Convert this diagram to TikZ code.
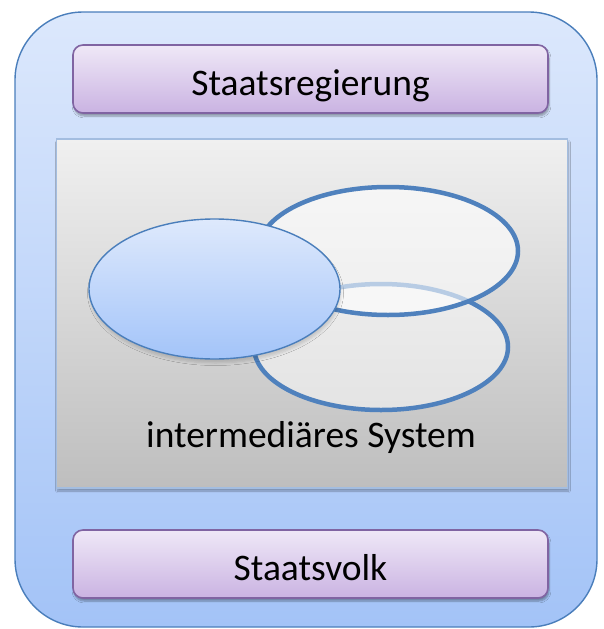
\documentclass[tikz,border=0pt]{standalone}
\usepackage{fontspec}
\setmainfont{Carlito}
\usetikzlibrary{shapes.geometric,shadows.blur}
\definecolor{frameblue}{HTML}{4A7EBB}
\definecolor{outertop}{HTML}{DCE8FC}
\definecolor{outerbot}{HTML}{A3C3F7}
\definecolor{violetline}{HTML}{8064A2}
\definecolor{violettop}{HTML}{EFE8F7}
\definecolor{violetbot}{HTML}{CAB3E2}
\definecolor{graytop}{HTML}{F0F0F0}
\definecolor{graybot}{HTML}{BEBEBE}
\definecolor{grayline}{HTML}{A3BDE0}
\definecolor{ringblue}{HTML}{4F81BD}
\definecolor{bluetop}{HTML}{DEE9FC}
\definecolor{bluebot}{HTML}{A3C4F9}
\tikzset{
  labelbox/.style={draw=violetline, line width=1.6pt, rounded corners=10pt,
    top color=violettop, bottom color=violetbot,
    minimum width=475pt, minimum height=68pt, inner sep=0pt,
    text height=32pt, text depth=0pt,
    font=\fontsize{37.5}{40}\selectfont,
    blur shadow={shadow xshift=1pt, shadow yshift=-3pt, shadow blur steps=6, shadow opacity=35}},
  ring/.style={ellipse, draw=ringblue, line width=4.5pt, fill=white,
    draw opacity=1, inner sep=0pt},
}
\begin{document}
\begin{tikzpicture}[x=1pt, y=-1pt]
\useasboundingbox (0,0) rectangle (603,629);
% outer frame
\draw[draw=frameblue, line width=1.4pt, rounded corners=68pt,
      top color=outertop, bottom color=outerbot]
  (15,12) rectangle (597,627);
% intermediate system panel
\node[draw=grayline, line width=1.6pt, top color=graytop, bottom color=graybot,
      minimum width=511pt, minimum height=349pt, inner sep=0pt,
      blur shadow={shadow xshift=1pt, shadow yshift=-3pt, shadow blur steps=6, shadow opacity=30}]
  (panel) at (312,313.5) {};
% overlapping groups
\node[ring, fill opacity=0.5, minimum width=254pt, minimum height=126pt] (lower) at (381,347) {};
\node[ring, fill opacity=0.6, minimum width=260pt, minimum height=128pt] (upper) at (388,251) {};
\node[ellipse, draw=frameblue, line width=1.4pt, top color=bluetop, bottom color=bluebot,
      minimum width=251pt, minimum height=140pt, inner sep=0pt,
      blur shadow={shadow xshift=1pt, shadow yshift=-4pt, shadow blur steps=5,
        shadow blur radius=2.5pt, shadow opacity=15}]
  (core) at (214.5,289) {};
\node[font=\fontsize{37.5}{40}\selectfont, anchor=base, inner sep=0pt] (syslabel) at (311,447) {intermediäres System};
% top and bottom boxes
\node[labelbox] (gov) at (310.5,79) {Staatsregierung};
\node[labelbox] (people) at (310.5,564) {Staatsvolk};
\end{tikzpicture}
\end{document}
